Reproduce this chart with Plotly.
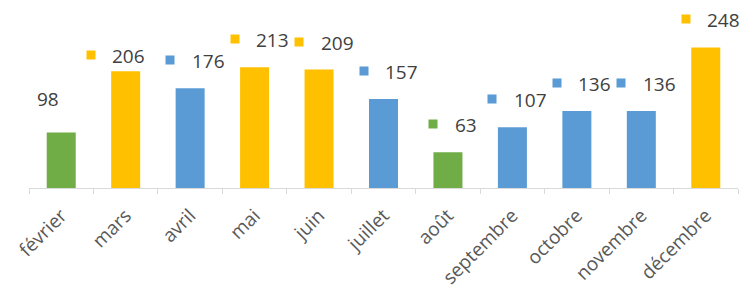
import plotly.graph_objects as go

months = ["février", "mars", "avril", "mai", "juin", "juillet", "août",
          "septembre", "octobre", "novembre", "décembre"]
values = [98, 206, 176, 213, 209, 157, 63, 107, 136, 136, 248]
groups = ["g", "y", "b", "y", "y", "b", "g", "b", "b", "b", "y"]

palette = {"g": "#70AD47", "y": "#FFC000", "b": "#5B9BD5"}
colors = [palette[g] for g in groups]

# label styling (pixel nudges), separate from data
label_lift = {m: 27 for m in months}
label_lift["mars"] = 15
label_lift["février"] = 33
no_key = {"février"}
shift_x = {"février": -13}

W, H = 740, 290
mt, mb, ml, mr = 10, 102, 29, 2
plot_h = H - mt - mb
px_per_unit = 0.567
ymax = plot_h / px_per_unit

fig = go.Figure()
fig.add_trace(go.Bar(x=months, y=values, marker=dict(color=colors, line=dict(width=0)),
                     width=0.45, hoverinfo="x+y"))

annotations = []
font = dict(family="Open Sans, Liberation Sans, sans-serif", size=19, color="#404040")
for m, v, c in zip(months, values, colors):
    txt = str(v)
    tw = 11 * len(txt)
    lift = label_lift[m]
    if m in no_key:
        annotations.append(dict(x=m, y=v, xref="x", yref="y", text=txt, showarrow=False,
                                xanchor="center", yanchor="middle", yshift=lift,
                                xshift=shift_x.get(m, 0), font=font))
        continue
    total = 9 + 15 + tw
    key_c = 4 - total / 2 + 4.5
    if m == "mars":
        key_c -= 15
    text_left = key_c + 4.5 + 15
    annotations.append(dict(x=m, y=v, xref="x", yref="y", text=" ", showarrow=False,
                            xanchor="center", yanchor="middle", yshift=lift + 1,
                            xshift=key_c, width=8, height=8, bgcolor=c, borderpad=0,
                            font=dict(size=4)))
    annotations.append(dict(x=m, y=v, xref="x", yref="y", text=txt, showarrow=False,
                            xanchor="left", yanchor="middle", yshift=lift,
                            xshift=text_left, font=font))

fig.update_layout(
    width=W, height=H,
    margin=dict(t=mt, b=mb, l=ml, r=mr, pad=0),
    paper_bgcolor="white", plot_bgcolor="white",
    showlegend=False,
    annotations=annotations,
    bargap=0.55,
)
fig.update_xaxes(
    type="category", range=[-0.5, 10.5], automargin=False,
    showline=True, linecolor="#d9d9d9", linewidth=1,
    ticks="outside", tickson="boundaries", ticklen=5, tickcolor="#d9d9d9",
    tickangle=-45, showgrid=False, ticklabelstandoff=8,
    tickfont=dict(family="Open Sans, Liberation Sans, sans-serif", size=19, color="#595959"),
)
fig.update_yaxes(range=[0, ymax], visible=False, showgrid=False, zeroline=False)

fig.write_html("out.html", config={"displayModeBar": False},
               post_script="document.body.style.margin='0';document.body.style.overflow='hidden';")
